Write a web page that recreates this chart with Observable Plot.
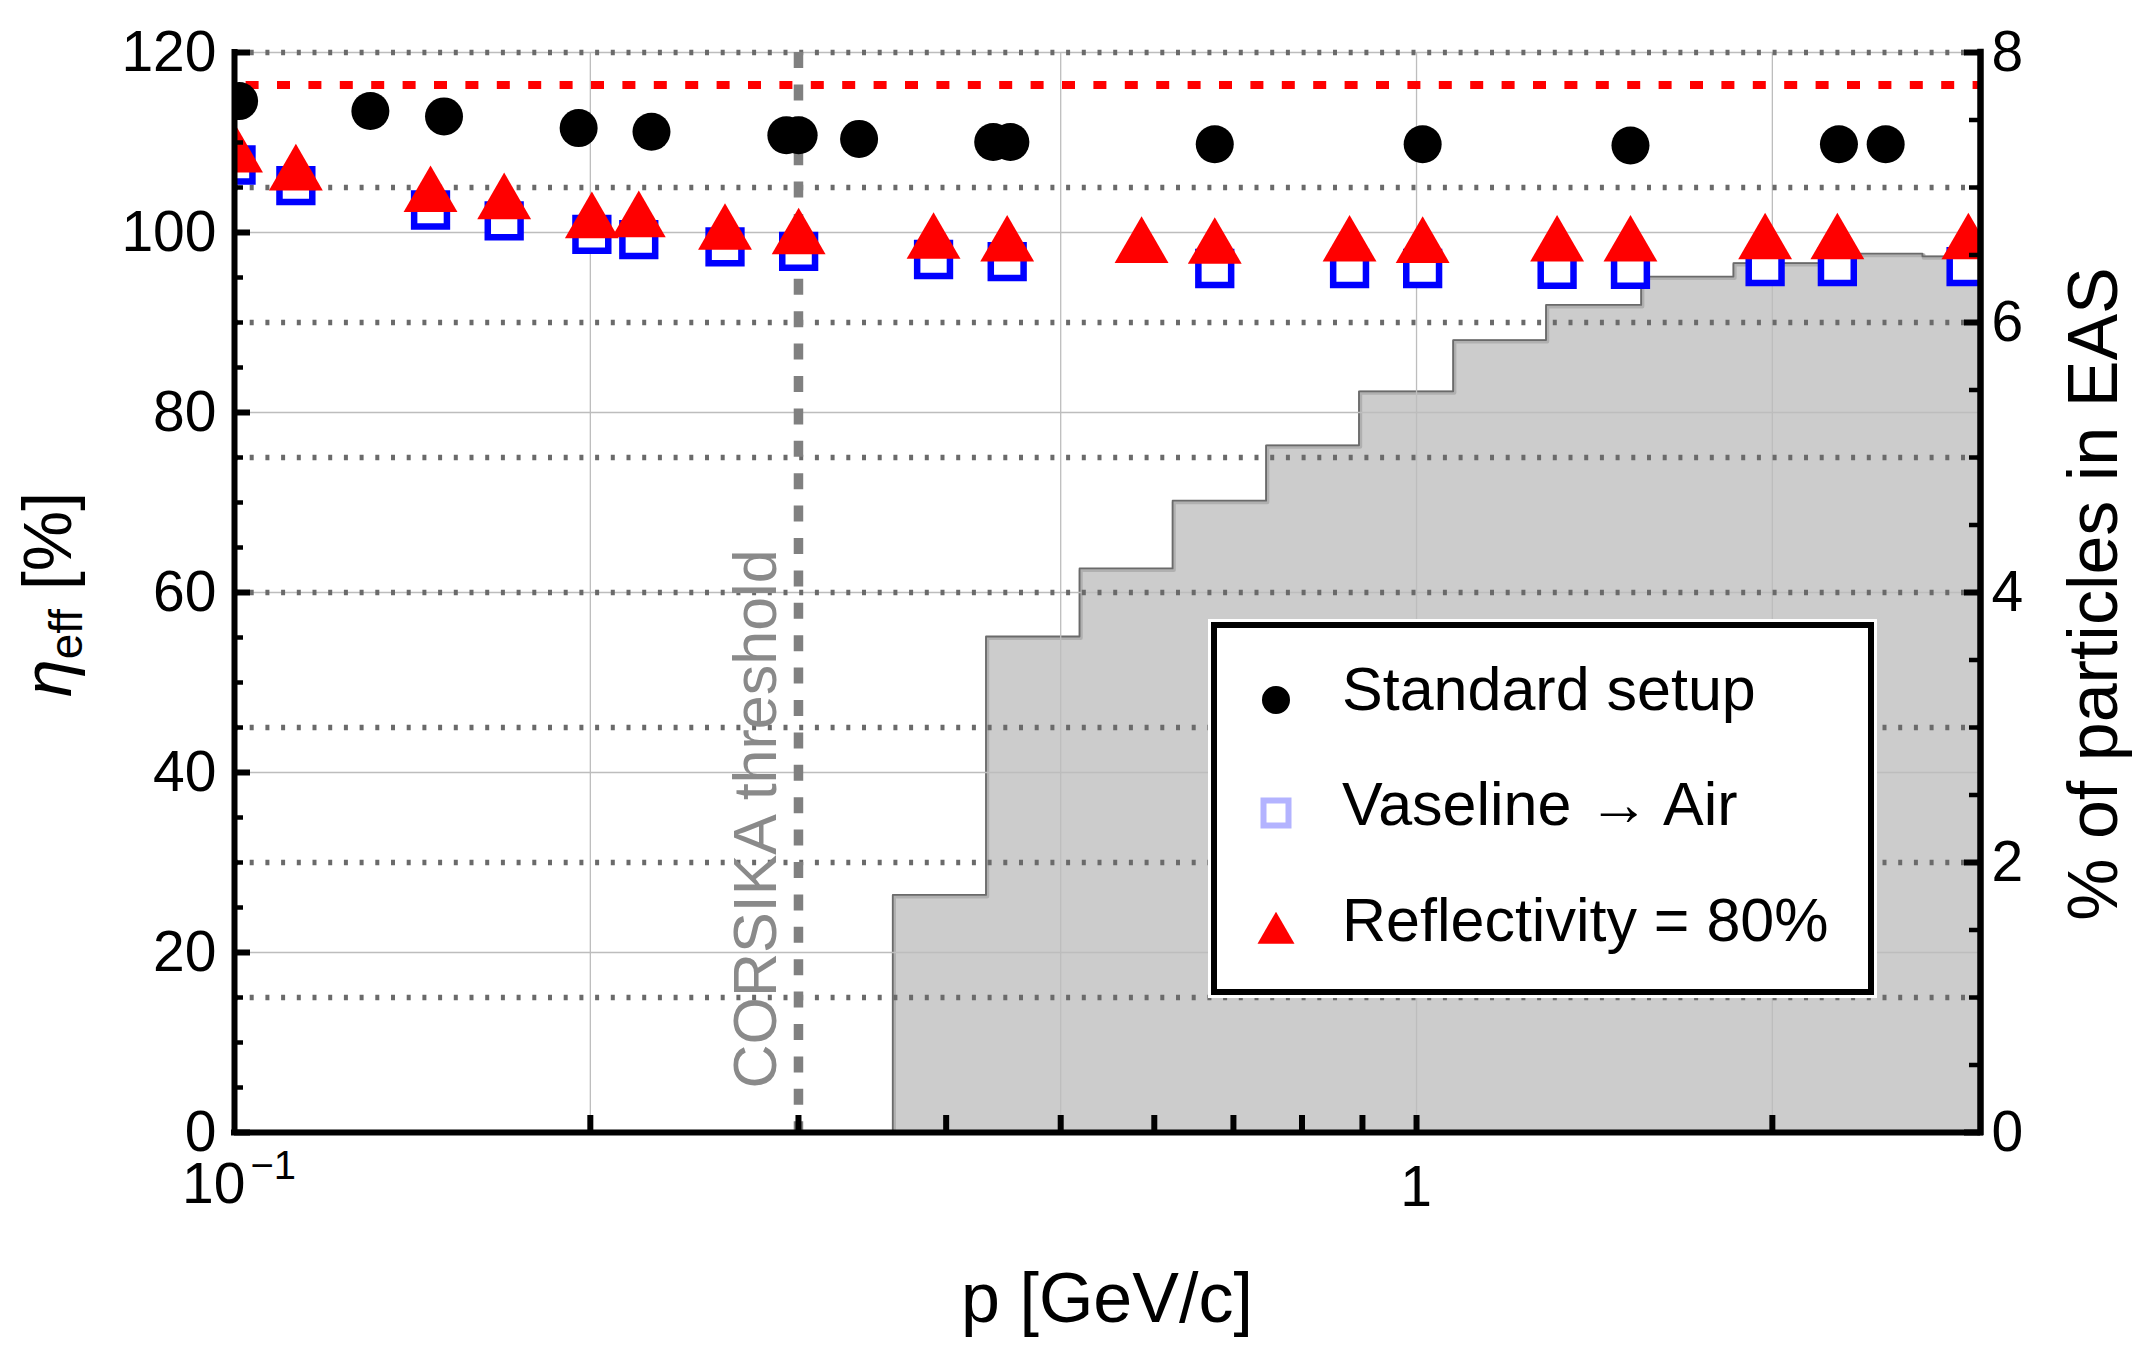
<!DOCTYPE html>
<html><head><meta charset="utf-8">
<script src="https://cdn.jsdelivr.net/npm/d3@7"></script>
<script src="https://cdn.jsdelivr.net/npm/@observablehq/plot@0.6"></script>
<style>
html,body{margin:0;padding:0;background:#fff;}
#chart{width:2147px;height:1353px;position:relative;overflow:hidden;}
</style></head><body><div id="chart"></div>
<script>
// ---------------- data ----------------
const stdP   = [0.1009, 0.1303, 0.1504, 0.1955, 0.2253, 0.2930, 0.3001, 0.3376, 0.4384, 0.4533, 0.675, 1.012, 1.517, 2.277, 2.494];
const stdEff = [114.6, 113.5, 112.9, 111.6, 111.2, 110.8, 110.8, 110.4, 110.05, 110.05, 109.8, 109.8, 109.66, 109.8, 109.8];

const vasP   = [0.1003, 0.1127, 0.1465, 0.1691, 0.2006, 0.2198, 0.260, 0.3001, 0.3903, 0.4505, 0.675, 0.8777, 1.012, 1.315, 1.517, 1.972, 2.27, 2.917];
const vasEff = [107.5, 105.2, 102.5, 101.3, 99.8, 99.2, 98.4, 97.9, 97.0, 96.76, 96.0, 96.0, 96.0, 95.9, 95.9, 96.2, 96.2, 96.2];

const refP   = [0.1003, 0.1127, 0.1465, 0.1691, 0.2006, 0.2198, 0.260, 0.3001, 0.3903, 0.4505, 0.5853, 0.675, 0.8777, 1.012, 1.315, 1.517, 1.972, 2.27, 2.93];
const refEff = [108.4, 106.4, 104.0, 103.2, 101.1, 101.2, 99.8, 99.3, 98.8, 98.5, 98.35, 98.25, 98.5, 98.35, 98.5, 98.5, 98.75, 98.75, 98.75];

// EAS particle fraction histogram (right axis, %)
const histEdges = [0.3605, 0.4323, 0.5187, 0.6218, 0.746, 0.894, 1.074, 1.287, 1.549, 1.854, 2.232, 2.679, 3.21];
const histPct   = [1.76, 3.674, 4.178, 4.68, 5.09, 5.49, 5.87, 6.13, 6.34, 6.44, 6.51, 6.49];

const thresholdP = 0.3;
const thresholdLabel = "CORSIKA threshold";
const refLineEff = 116.4;

const leftMajor  = [0, 20, 40, 60, 80, 100, 120];
const leftMinor  = [5, 10, 15, 25, 30, 35, 45, 50, 55, 65, 70, 75, 85, 90, 95, 105, 110, 115];
const rightMajor = [0, 2, 4, 6, 8];
const rightMinor = [0.5, 1, 1.5, 2.5, 3, 3.5, 4.5, 5, 5.5, 6.5, 7, 7.5];
const rightDotted = [1, 2, 3, 4, 5, 6, 7, 8];
const xTicks = [0.2, 0.3, 0.4, 0.5, 0.6, 0.7, 0.8, 0.9, 1, 2];
const xTickLabels = [{p: 0.1, base: "10", exp: "\u22121"}, {p: 1, base: "1", exp: ""}];
const xGrid = [0.2, 0.5, 1, 2];
const yGrid = [20, 40, 60, 80, 100, 120];

const legendLabels = ["Standard setup", "Vaseline \u2192 Air", "Reflectivity = 80%"];
const xTitle = "p [GeV/c]";
const rightTitle = "% of particles in EAS";

// ---------------- layout ----------------
const FONT = "'Liberation Sans', Arial, Helvetica, sans-serif";
const W = 2147, H = 1353, ML = 234, MR = 167, MT = 52, MB = 221;
const PW = W - ML - MR, PH = H - MT - MB;
const RATIO = 120 / 8; // right-axis units -> left-axis units

const std = stdP.map((p, i) => ({p, eff: stdEff[i]}));
const vas = vasP.map((p, i) => ({p, eff: vasEff[i]}));
const ref = refP.map((p, i) => ({p, eff: refEff[i]}));
const histArea = histPct.map((v, i) => ({p: histEdges[i], v}))
  .concat([{p: histEdges[histEdges.length - 1], v: histPct[histPct.length - 1]}]);
const histOutline = [{p: histEdges[0], v: 0}].concat(histArea);

const plot = Plot.plot({
  width: W, height: H,
  marginLeft: ML, marginRight: MR, marginTop: MT, marginBottom: MB,
  x: {type: "log", domain: [0.1, 3], axis: null},
  y: {domain: [0, 120], axis: null},
  style: {fontFamily: FONT, background: "white", overflow: "visible"},
  marks: [
    Plot.areaY(histArea, {x: "p", y: d => d.v * RATIO, curve: "step-after", fill: "#cccccc", clip: true}),
    Plot.line(histOutline, {x: "p", y: d => d.v * RATIO, curve: "step-after", stroke: "#b0b0b0", strokeWidth: 4, dx: 1.2, dy: 1.5, clip: true}),
    Plot.line(histOutline, {x: "p", y: d => d.v * RATIO, curve: "step-after", stroke: "#6a6a6a", strokeWidth: 1.8, clip: true}),
    Plot.ruleX(xGrid, {x: d => d, stroke: "#bdbdbd", strokeWidth: 1.3}),
    Plot.ruleY(yGrid, {y: d => d, stroke: "#bdbdbd", strokeWidth: 1.3}),
    Plot.ruleY(rightDotted, {y: d => d * RATIO, stroke: "#6a6a6a", strokeWidth: 5.5, strokeDasharray: "4,11.7"}),
    Plot.ruleY([refLineEff], {y: d => d, stroke: "#ff0000", strokeWidth: 8, strokeDasharray: "13,18.4", strokeDashoffset: 19.8}),
    Plot.ruleX([thresholdP], {x: d => d, stroke: "#808080", strokeWidth: 9.5, strokeDasharray: "16,16.4"}),
    Plot.text([{p: thresholdP, label: thresholdLabel}], {x: "p", text: "label", frameAnchor: "bottom", rotate: -90, textAnchor: "start", dx: -22, dy: -44, fontSize: 61, fill: "#8a8a8a"}),
    Plot.dot(vas, {x: "p", y: "eff", symbol: "square", r: 18.5, stroke: "#0000ff", strokeWidth: 6.5, fill: "white", clip: true}),
    Plot.dot(ref, {x: "p", y: "eff", symbol: "triangle", r: 20, fill: "#ff0000", stroke: "none", clip: true}),
    Plot.dot(std, {x: "p", y: "eff", symbol: "circle", r: 19, fill: "black", stroke: "none", clip: true}),
    // axes frame
    Plot.ruleY([0], {y: d => d, stroke: "black", strokeWidth: 6, strokeLinecap: "square"}),
    Plot.ruleX([0.1], {x: d => d, stroke: "black", strokeWidth: 6, strokeLinecap: "square"}),
    Plot.ruleX([3], {x: d => d, stroke: "black", strokeWidth: 6.5, strokeLinecap: "square"}),
    // ticks (inward)
    Plot.tickY(leftMajor, {y: d => d, stroke: "black", strokeWidth: 6, insetRight: PW - 16}),
    Plot.tickY(leftMinor, {y: d => d, stroke: "black", strokeWidth: 4.5, insetRight: PW - 9}),
    Plot.tickY(rightMajor, {y: d => d * RATIO, stroke: "black", strokeWidth: 6, insetLeft: PW - 16}),
    Plot.tickY(rightMinor, {y: d => d * RATIO, stroke: "black", strokeWidth: 4.5, insetLeft: PW - 11}),
    Plot.tickX(xTicks, {x: d => d, stroke: "black", strokeWidth: 6, insetTop: PH - 17}),
    // tick labels
    Plot.text(leftMajor, {y: d => d, frameAnchor: "left", text: d => String(d), textAnchor: "end", dx: -18, fontSize: 57}),
    Plot.text(rightMajor, {y: d => d * RATIO, frameAnchor: "right", text: d => String(d), textAnchor: "start", dx: 11, fontSize: 57})
  ]
});

document.getElementById("chart").appendChild(plot);
const svg = d3.select(plot);
const xs = plot.scale("x");
const ys = plot.scale("y");

// x tick labels (with superscript exponent) placed through Plot's x scale
xTickLabels.forEach(d => {
  const px = xs.apply(d.p);
  const t = svg.append("text")
    .attr("font-family", FONT).attr("font-size", 57).attr("fill", "black");
  if (d.exp === "") {
    t.attr("x", px).attr("y", ys.apply(0) + 74).attr("text-anchor", "middle").text(d.base);
  } else {
    t.attr("x", px + 8).attr("y", ys.apply(0) + 71).attr("text-anchor", "end");
    t.append("tspan").text(d.base);
    t.append("tspan").attr("font-size", 40).attr("dx", 5).attr("dy", -24).text(d.exp);
    // right-align so the base ends just left of the exponent
    t.attr("text-anchor", "start").attr("x", px - 52);
  }
});

// axis titles
svg.append("text")
  .attr("x", ML + PW / 2).attr("y", 1322)
  .attr("text-anchor", "middle").attr("font-family", FONT).attr("font-size", 70).attr("fill", "black")
  .text(xTitle);

svg.append("text")
  .attr("transform", "translate(2117,594) rotate(-90)")
  .attr("text-anchor", "middle").attr("font-family", FONT).attr("font-size", 70).attr("fill", "black")
  .text(rightTitle);

const yt = svg.append("text")
  .attr("transform", "translate(71,697) rotate(-90)")
  .attr("text-anchor", "start").attr("font-family", FONT).attr("font-size", 68).attr("fill", "black");
yt.append("tspan").attr("font-style", "italic").text("\u03b7");
yt.append("tspan").attr("font-size", 46).attr("dy", 11).text("eff");
yt.append("tspan").attr("dy", -11).text(" [%]");

// legend
const lg = svg.append("g");
lg.append("rect").attr("x", 1208).attr("y", 619).attr("width", 669).attr("height", 379).attr("fill", "white");
lg.append("rect").attr("x", 1214).attr("y", 625).attr("width", 657).attr("height", 367)
  .attr("fill", "white").attr("stroke", "black").attr("stroke-width", 6);
const legendSym = [
  {sym: d3.symbolCircle, size: 616, fill: "black", stroke: "none", sw: 0, cy: 700},
  {sym: d3.symbolSquare, size: 625, fill: "white", stroke: "#b3b3ff", sw: 6, cy: 813},
  {sym: d3.symbolTriangle, size: 593, fill: "#ff0000", stroke: "none", sw: 0, cy: 933}
];
const legendBaseline = [710, 825, 941];
legendLabels.forEach((lab, i) => {
  const s = legendSym[i];
  lg.append("path").attr("d", d3.symbol(s.sym, s.size)())
    .attr("transform", `translate(1276,${s.cy})`)
    .attr("fill", s.fill).attr("stroke", s.stroke).attr("stroke-width", s.sw);
  lg.append("text").attr("x", 1342).attr("y", legendBaseline[i])
    .attr("text-anchor", "start")
    .attr("font-family", FONT).attr("font-size", 61).attr("fill", "black").text(lab);
});
</script></body></html>
